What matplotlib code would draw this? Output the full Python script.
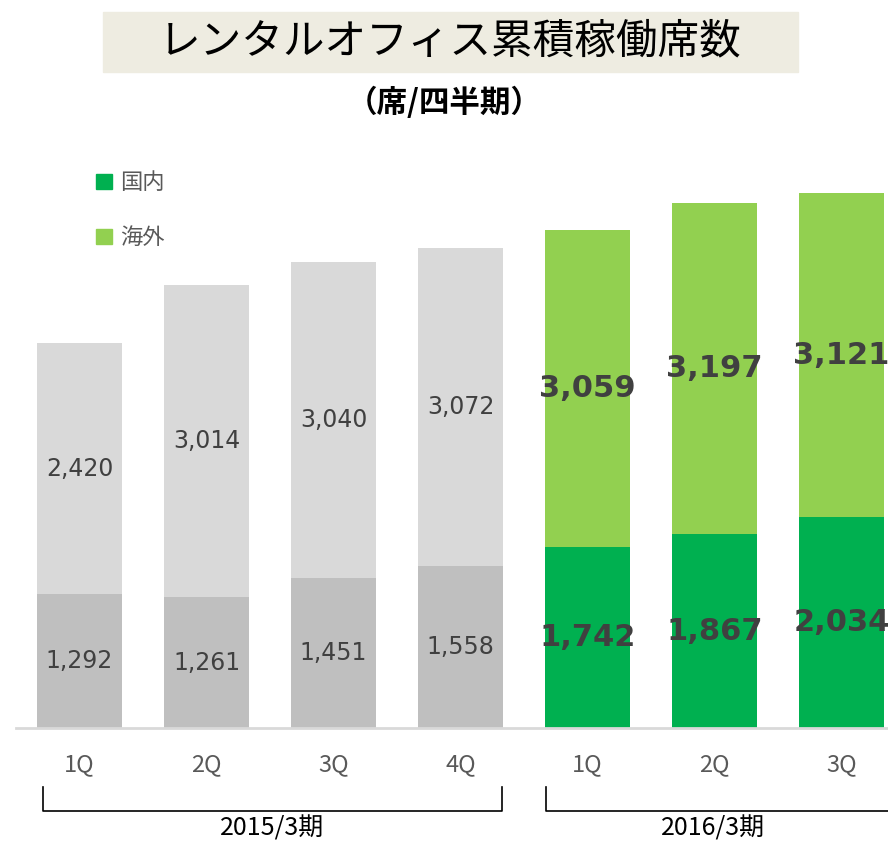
import matplotlib
matplotlib.use('Agg')
import numpy as np
from matplotlib import pyplot as plt
from matplotlib.patches import Patch, Rectangle
from matplotlib.transforms import blended_transform_factory

plt.rcParams['font.family'] = ['DejaVu Sans', 'Noto Sans CJK JP']

quarters = ['1Q', '2Q', '3Q', '4Q', '1Q', '2Q', '3Q']
domestic = [1292, 1261, 1451, 1558, 1742, 1867, 2034]
overseas = [2420, 3014, 3040, 3072, 3059, 3197, 3121]
periods = ['2015/3期', '2016/3期']
period_bars = [[0, 3], [4, 6]]

dom_colors = ['#BFBFBF'] * 4 + ['#00B050'] * 3
ovs_colors = ['#D9D9D9'] * 4 + ['#92D050'] * 3

W, H = 888, 842
fig = plt.figure(figsize=(W / 100, H / 100), dpi=100)
ax = fig.add_axes([16 / W, (H - 728) / H, (W - 16) / W, 578 / H])

x = np.arange(len(quarters))
ax.bar(x, domestic, width=0.67, color=dom_colors)
ax.bar(x, overseas, width=0.67, bottom=domestic, color=ovs_colors)
ax.set_xlim(-0.5, 6.366)
ax.set_ylim(0, 5574)
ax.axis('off')
ax.axhline(0, color='#D9D9D9', lw=2, clip_on=False)

# value labels
for i in range(len(x)):
    if i < 4:
        kw = dict(fontsize=17, color='#404040')
    else:
        kw = dict(fontsize=22, color='#404040', fontweight='bold')
    ax.text(x[i], domestic[i] / 2, f'{domestic[i]:,}', ha='center', va='center', **kw)
    ax.text(x[i], domestic[i] + overseas[i] / 2, f'{overseas[i]:,}', ha='center', va='center', **kw)

# quarter labels and period brackets
tr = blended_transform_factory(ax.transData, fig.transFigure)
for i, q in enumerate(quarters):
    ax.text(x[i], 1 - 765 / H, q, transform=tr, ha='center', va='center',
            fontsize=17, color='#595959', family=['Noto Sans CJK JP'])

y0, y1 = 1 - 787 / H, 1 - 811 / H
# 2015/3: closed bracket
ax.plot([-0.29, -0.29, 3.33, 3.33], [y0, y1, y1, y0], transform=tr, color='black',
        lw=1.2, clip_on=False)
# 2016/3: runs off the right edge
ax.plot([3.67, 3.67, 6.366], [y0, y1, y1], transform=tr, color='black',
        lw=1.2, clip_on=False)

label_x = [(-0.29 + 3.33) / 2, 4.99]
for name, lx in zip(periods, label_x):
    ax.text(lx, 1 - 828 / H, name, transform=tr,
            ha='center', va='center', fontsize=18, color='black', family=['Noto Sans CJK JP'])

# legend
handles = [Patch(color='#00B050', label='国内'), Patch(color='#92D050', label='海外')]
fig.legend(handles=handles, loc='upper left', bbox_to_anchor=(85 / W, 1 - 160 / H),
           frameon=False, prop={'family': 'Noto Sans CJK JP', 'size': 16},
           labelcolor='#595959', handlelength=0.7, handleheight=0.7,
           handletextpad=0.4, labelspacing=1.45, borderpad=0)

# title block
fig.patches.append(Rectangle((103 / W, 1 - 72 / H), (798 - 103) / W, 60 / H,
                             transform=fig.transFigure, color='#EEECE1', zorder=0))
fig.text(450 / W, 1 - 42 / H, 'レンタルオフィス累積稼働席数', ha='center', va='center',
         fontsize=30, family=['Noto Sans CJK JP'], color='black')
fig.text(444 / W, 1 - 103 / H, '（席/四半期）', ha='center', va='center',
         fontsize=22, fontweight='bold', family=['Noto Sans CJK JP'], color='black')

fig.savefig('out.png', dpi=100)
